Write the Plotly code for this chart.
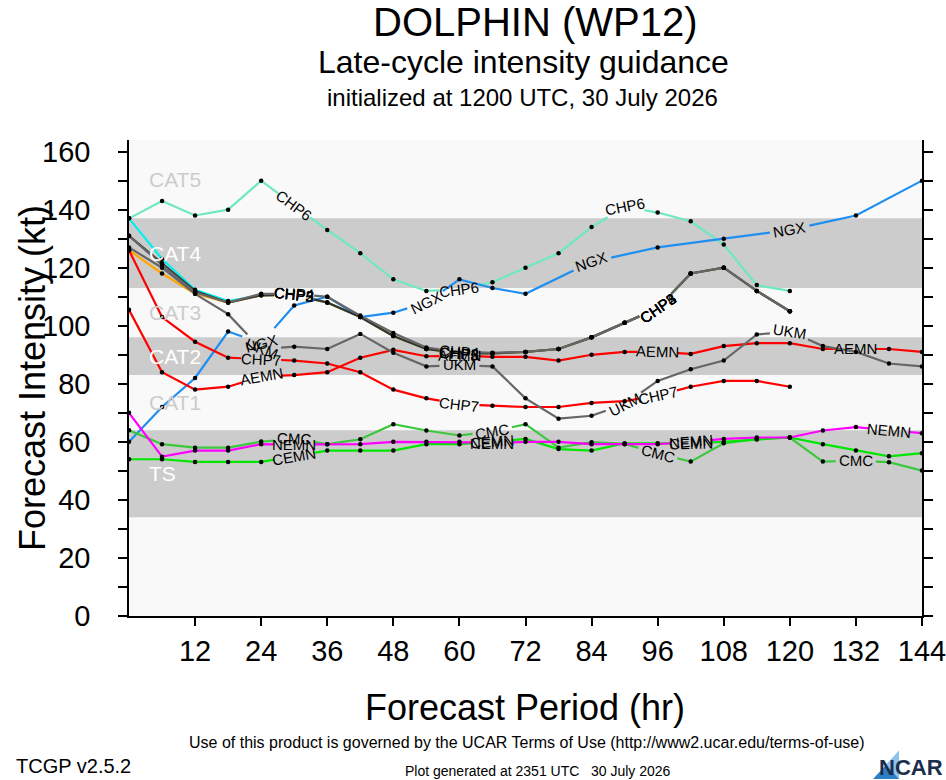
import math
import plotly.graph_objects as go

# forecast hours (6-hourly)
HOURS = list(range(0, 145, 6))

# intensity guidance (kt), None = no forecast at that hour
CHP6 = [137, 143, 138, 140, 150, 141.5, 133, 125, 116, 112, 112.5, 115, 120, 125, 134, 141, 139, 136, 128, 114, 112, None, None, None, None]
NGX = [60, 72, 82, 98, 94, 107, 110, 103, 104.5, 108, 116, 113, 111, None, 122, None, 127, None, 130, None, 133, None, 138, None, 150]
AEMN = [105.5, 84, 78, 79, 82.5, 83, 84, 89, 91.7, 89.5, 89.6, 89.3, 89.3, 88, 90, 91, 91, 90.3, 93, 94, 94, 92, 92, 92, 91]
CHP7 = [126, 103, 94.5, 89, 88.5, 88, 87, 84, 78, 75, 73, 72.4, 72, 72, 73.4, 74, 76, 79, 81, 81, 79, None, None, None, None]
UKM = [127, 120, 111, 104, 92, 92.8, 92, 97.2, 90.7, 86, 86.5, 86, 75, 68, 69, 73, 81, 85, 88, 97, 98, 93, 91, 87, 86]
CHP2 = [137, 123, 112.4, 108.5, 110.5, 110.7, 108, 103, 96.5, 92, 90.5, 90.5, 91, 92, 96, 101, 106, 118, 120, 112, 105, None, None, None, None]
CHP5 = [126, 118, 111, 108, 110.5, 110.7, 108, 103, 96.5, 92, 90.5, 90.5, 91, 92, 96, 101, 106, 118, 120, 112, 105, None, None, None, None]
CHP3 = [131, 121.5, 112, 108, 110.5, 110.7, 108, 103, 96.5, 92, 90.5, 90.5, 91, 92, 96, 101, 106, 118, 120, 112, 105, None, None, None, None]
CHP4 = [131, 121, 111.5, 108, 111, 111, 110, 103.5, 97.5, 92.5, 91, 90.7, 91, 92, 96, 101, 106, 118, 120, 112, 105, None, None, None, None]
CMC = [64, 59.2, 58, 58, 60.1, 61, 59.2, 60.9, 66.1, 63.9, 62.2, 63.5, 66.1, 58, 59.9, 59.3, 56, 53.2, 59.5, 61, 61.5, 53.2, 53.5, 53, 50.1]
CEMN = [54, 54, 53.1, 53.1, 53.1, 55, 57, 57, 57, 59.2, 59.2, 60, 61, 57.5, 57, 59.5, 59.5, 59.5, 60, 60.8, 61.5, 59.2, 57, 55, 56.1]
NEMN = [70, 54.9, 57, 57, 59.2, 59, 59.2, 59.2, 60, 60, 60, 59.5, 60, 60, 59.2, 59.2, 59.2, 60, 61, 61.5, 61.5, 63.9, 65.1, 64, 63]

# (name, values, colour, hours where the model label is written)
MODELS = [
    ("CHP2", CHP2, "#00f0f0", [30, 60, 96]),
    ("CHP5", CHP5, "#ffa500", [30, 60, 96]),
    ("CHP6", CHP6, "#6ee8c0", [30, 60, 90]),
    ("NGX", NGX, "#1e8ff0", [24, 54, 84, 120]),
    ("CHP7", CHP7, "#ff0000", [24, 60, 96]),
    ("AEMN", AEMN, "#ff0000", [24, 60, 96, 132]),
    ("CMC", CMC, "#3cc83c", [30, 66, 96, 132]),
    ("CEMN", CEMN, "#00e600", [30, 66, 102]),
    ("NEMN", NEMN, "#ff00ff", [30, 66, 102, 138]),
    ("CHP3", CHP3, "#333333", [30, 60, 96]),
    ("CHP4", CHP4, "#666666", [30, 60, 96]),
    ("UKM", UKM, "#666666", [24, 60, 90, 120]),
]

# Saffir-Simpson bands (kt)
BAND_NAMES = ["TS", "CAT1", "CAT2", "CAT3", "CAT4", "CAT5"]
BAND_LOW = [34, 64, 83, 96, 113, 137]
BAND_HIGH = [64, 83, 96, 113, 137, 164]

W, H = 946, 780
L, R, T, B = 129, 24, 140, 164
XMAX, YMAX = 144, 164
PXH = (W - L - R) / XMAX          # pixels per hour
PXV = (H - T - B) / YMAX          # pixels per kt
GAP = 20                          # half gap (px) left around a label
FONT = "Liberation Sans"


def P(xpx, ypx):
    return (xpx - L) / (W - L - R), (H - B - ypx) / (H - T - B)


def seg_angle(h0, v0, h1, v1):
    return math.degrees(math.atan2(-(v1 - v0) * PXV, (h1 - h0) * PXH))


def gap_hours(h0, v0, h1, v1):
    s = (v1 - v0) * PXV / ((h1 - h0) * PXH)
    return GAP / (PXH * math.sqrt(1 + s * s))


def interp(h0, v0, h1, v1, h):
    return v0 + (v1 - v0) * (h - h0) / (h1 - h0)


fig = go.Figure()
annotations = []
markers_x, markers_y = [], []

for name, vals, color, labs in MODELS:
    pts = [(h, v) for h, v in zip(HOURS, vals) if v is not None]
    xs, ys = [], []
    for i, (h, v) in enumerate(pts):
        if h not in labs:
            xs.append(h)
            ys.append(v)
            markers_x.append(h)
            markers_y.append(v)
            continue
        angles = []
        if i > 0:
            h0, v0 = pts[i - 1]
            hx = h - gap_hours(h0, v0, h, v)
            if hx > h0:
                xs.append(hx)
                ys.append(interp(h0, v0, h, v, hx))
            angles.append(seg_angle(h0, v0, h, v))
        xs.append(None)
        ys.append(None)
        if i < len(pts) - 1:
            h1, v1 = pts[i + 1]
            hx = h + gap_hours(h, v, h1, v1)
            if hx < h1:
                xs.append(hx)
                ys.append(interp(h, v, h1, v1, hx))
            angles.append(seg_angle(h, v, h1, v1))
        annotations.append(dict(
            x=h, y=v, xref="x", yref="y", text=name, showarrow=False,
            textangle=sum(angles) / len(angles),
            font=dict(size=15, color="black", family=FONT)))
    fig.add_trace(go.Scatter(x=xs, y=ys, mode="lines", name=name,
                             line=dict(color=color, width=2.2),
                             connectgaps=False, hoverinfo="skip"))

fig.add_trace(go.Scatter(x=markers_x, y=markers_y, mode="markers",
                         marker=dict(color="black", size=4.5), hoverinfo="skip"))

shapes = []
for i, (nm, lo, hi) in enumerate(zip(BAND_NAMES, BAND_LOW, BAND_HIGH)):
    gray = i % 2 == 0
    if gray:
        shapes.append(dict(type="rect", xref="x", yref="y", x0=0, x1=XMAX,
                           y0=lo, y1=hi, fillcolor="#cccccc", line_width=0,
                           layer="below"))
    annotations.append(dict(
        x=3.2, y=(lo + hi) / 2, xref="x", yref="y", text=nm, showarrow=False,
        xanchor="left", font=dict(size=21, family=FONT,
                                  color="white" if gray else "#cccccc")))

# NCAR logo swoosh
lx0, ly0 = P(873, 779)
lx1, ly1 = P(899, 751)
lx2, ly2 = P(899, 779)
lx3, ly3 = P(886, 765)
shapes.append(dict(type="path", xref="paper", yref="paper",
                   path=f"M {lx0},{ly0} L {lx1},{ly1} L {lx2},{ly2} Z",
                   fillcolor="#2d7fc8", line_width=0))
shapes.append(dict(type="path", xref="paper", yref="paper",
                   path=f"M {lx3},{ly3} L {lx1},{ly1} L {lx2},{ly2} Z",
                   fillcolor="#8cc4ec", line_width=0))


def txt(text, xpx, ypx, size, anchor="center", angle=0, color="black"):
    x, y = P(xpx, ypx)
    annotations.append(dict(x=x, y=y, xref="paper", yref="paper", text=text,
                            showarrow=False, xanchor=anchor, yanchor="middle",
                            textangle=angle,
                            font=dict(size=size, color=color, family=FONT)))


txt("DOLPHIN (WP12)", 535, 22, 40)
txt("Late-cycle intensity guidance", 523, 62, 32)
txt("initialized at 1200 UTC, 30 July 2026", 522, 97, 24)
txt("Forecast Intensity (kt)", 32, 378, 36, angle=-90)
txt("Forecast Period (hr)", 525, 707, 36)
txt("Use of this product is governed by the UCAR Terms of Use (http://www2.ucar.edu/terms-of-use)", 527, 742, 16)
txt("TCGP v2.5.2", 14, 766, 20, anchor="left")
txt("Plot generated at 2351 UTC   30 July 2026", 538, 771, 14)
txt("<b>NCAR</b>", 945, 767, 22, anchor="right", color="#1c2c4c")

fig.update_layout(
    width=W, height=H,
    margin=dict(l=L, r=R, t=T, b=B, autoexpand=False),
    paper_bgcolor="white", plot_bgcolor="#f9f9f9",
    showlegend=False,
    shapes=shapes, annotations=annotations,
    font=dict(family=FONT, color="black"),
)
fig.update_xaxes(range=[0, XMAX], tickvals=list(range(12, 145, 12)),
                 showgrid=False, zeroline=False, showline=True,
                 linecolor="black", linewidth=1.5, ticks="outside",
                 ticklen=8, tickwidth=1.5, tickcolor="black",
                 ticklabeloverflow="allow",
                 tickfont=dict(size=29))
fig.update_yaxes(range=[0, YMAX], tickvals=list(range(0, 161, 20)),
                 showgrid=False, zeroline=False, showline=True,
                 linecolor="black", linewidth=1.5, ticks="outside",
                 ticklen=9, tickwidth=1.5, tickcolor="black",
                 mirror="ticks", ticklabelstandoff=22,
                 minor=dict(tickvals=list(range(10, 161, 20)), ticks="outside",
                            ticklen=9, tickwidth=1.5, tickcolor="black"),
                 tickfont=dict(size=29))

fig.write_html("out.html", config={"displayModeBar": False},
               post_script="document.body.style.margin='0px';")
